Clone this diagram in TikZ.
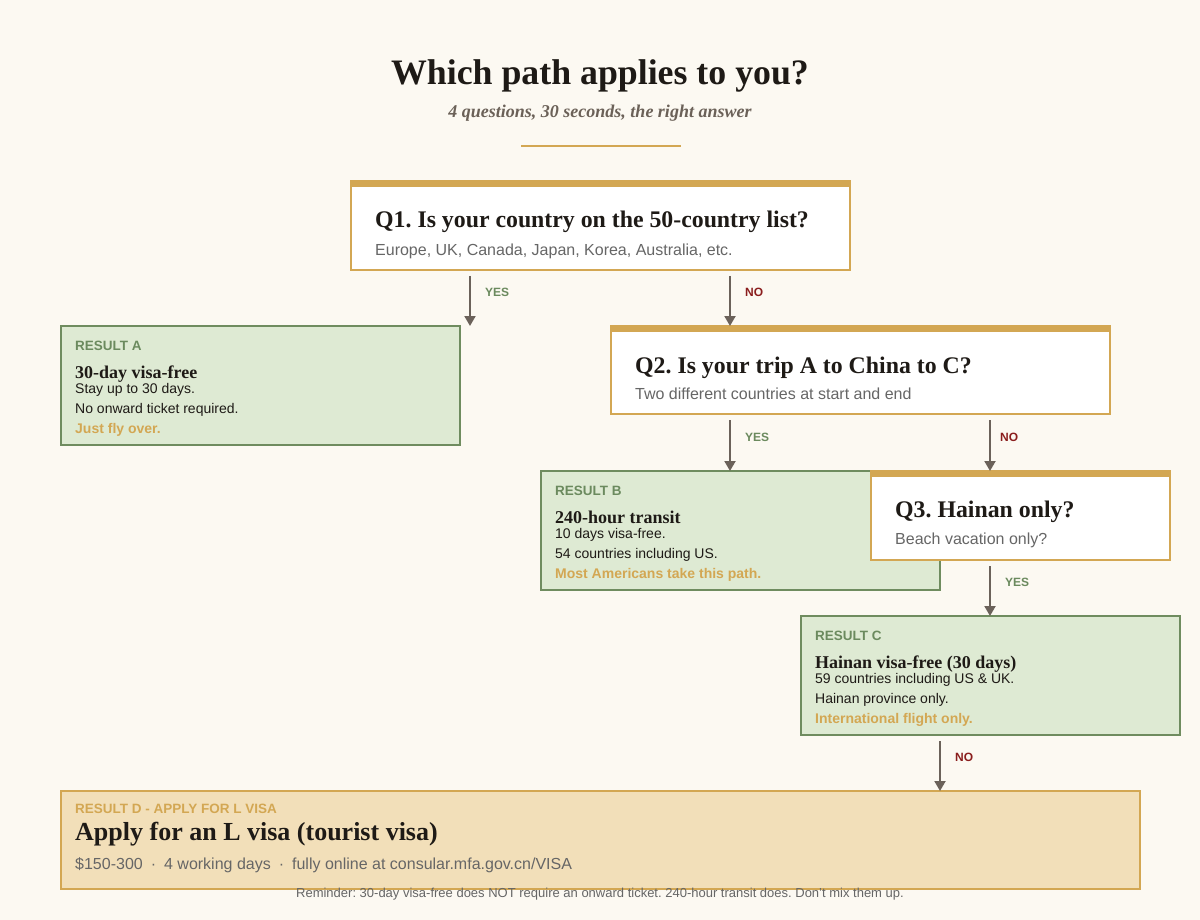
\documentclass[tikz,border=0pt]{standalone}
\usepackage{fontspec}
\setmainfont{Liberation Serif}
\setsansfont{Liberation Sans}
\usetikzlibrary{arrows.meta,calc}
\frenchspacing
\definecolor{bg}{HTML}{FCF9F2}
\definecolor{gold}{HTML}{D3A753}
\definecolor{gfill}{HTML}{DEEAD3}
\definecolor{gborder}{HTML}{6F8C5F}
\definecolor{gtext}{HTML}{6B8A5E}
\definecolor{nored}{HTML}{8B1E1E}
\definecolor{arrowc}{HTML}{6B625A}
\definecolor{greytxt}{HTML}{666666}
\definecolor{darktxt}{HTML}{1E1A16}
\definecolor{dfill}{HTML}{F2DFB9}
\definecolor{subtxt}{HTML}{6B6158}
\newcommand\myfs[1]{\fontsize{#1}{#1}\selectfont}
\begin{document}
\begin{tikzpicture}[x=1pt,y=-1pt,
  box/.style={draw, line width=2pt, anchor=north west, inner sep=0pt, outer sep=0pt},
  qbox/.style={box, draw=gold, fill=white},
  rbox/.style={box, draw=gborder, fill=gfill},
  dbox/.style={box, draw=gold, fill=dfill},
  arr/.style={draw=arrowc, line width=2pt, -{Triangle[width=11pt,length=10pt]}},
  yeslbl/.style={anchor=base west, inner sep=0pt, text=gtext, font=\sffamily\bfseries\myfs{12}},
  nolbl/.style={anchor=base west, inner sep=0pt, text=nored, font=\sffamily\bfseries\myfs{12}},
  qt/.style={anchor=base west, inner sep=0pt, text=darktxt, font=\bfseries\myfs{23.8}},
  qs/.style={anchor=base west, inner sep=0pt, text=greytxt, font=\sffamily\myfs{16}},
  rlab/.style={anchor=base west, inner sep=0pt, text=gtext, font=\sffamily\bfseries\myfs{13.5}},
  rt/.style={anchor=base west, inner sep=0pt, text=darktxt, font=\bfseries\myfs{18}},
  rl/.style={anchor=base west, inner sep=0pt, text=darktxt, font=\sffamily\myfs{14}},
  rg/.style={anchor=base west, inner sep=0pt, text=gold, font=\sffamily\bfseries\myfs{14}},
]
\useasboundingbox (0,0) rectangle (1200,920);
\fill[bg] (0,0) rectangle (1200,920);

% title
\node[anchor=base, inner sep=0pt, text=darktxt, font=\bfseries\myfs{35.8}] (title) at (600,85) {Which path applies to you?};
\node[anchor=base, inner sep=0pt, text=subtxt, font=\bfseries\itshape\myfs{18}] (subtitle) at (600,118) {4 questions, 30 seconds, the right answer};
\draw[gold, line width=2pt] (521,146) -- (681,146);

% Q1
\node[qbox, minimum width=499pt, minimum height=89pt] (q1) at (351,181) {};
\fill[gold] ($(q1.north west)+(-1,-1)$) rectangle ($(q1.north east)+(1,6)$);
\node[qt] (q1t) at ($(q1.north west)+(24,47)$) {Q1. Is your country on the 50-country list?};
\node[qs] (q1s) at ($(q1.north west)+(24,74)$) {Europe, UK, Canada, Japan, Korea, Australia, etc.};

% Result A
\node[rbox, minimum width=399pt, minimum height=119pt] (ra) at (61,326) {};
\node[rlab] (ral) at ($(ra.north west)+(14,24)$) {RESULT A};
\node[rt] (rat) at ($(ra.north west)+(14,52)$) {30-day visa-free};
\node[rl] (ra1) at ($(ra.north west)+(14,67)$) {Stay up to 30 days.};
\node[rl] (ra2) at ($(ra.north west)+(14,87)$) {No onward ticket required.};
\node[rg] (ra3) at ($(ra.north west)+(14,107)$) {Just fly over.};

% Q2
\node[qbox, minimum width=499pt, minimum height=88pt] (q2) at (611,326) {};
\fill[gold] ($(q2.north west)+(-1,-1)$) rectangle ($(q2.north east)+(1,6)$);
\node[qt] (q2t) at ($(q2.north west)+(24,47)$) {Q2. Is your trip A to China to C?};
\node[qs] (q2s) at ($(q2.north west)+(24,73)$) {Two different countries at start and end};

% Result B
\node[rbox, minimum width=399pt, minimum height=119pt] (rb) at (541,471) {};
\node[rlab] (rbl) at ($(rb.north west)+(14,24)$) {RESULT B};
\node[rt] (rbt) at ($(rb.north west)+(14,52)$) {240-hour transit};
\node[rl] (rb1) at ($(rb.north west)+(14,67)$) {10 days visa-free.};
\node[rl] (rb2) at ($(rb.north west)+(14,87)$) {54 countries including US.};
\node[rg] (rb3) at ($(rb.north west)+(14,107)$) {Most Americans take this path.};

% Q3
\node[qbox, minimum width=299pt, minimum height=89pt] (q3) at (871,471) {};
\fill[gold] ($(q3.north west)+(-1,-1)$) rectangle ($(q3.north east)+(1,6)$);
\node[qt] (q3t) at ($(q3.north west)+(24,46)$) {Q3. Hainan only?};
\node[qs] (q3s) at ($(q3.north west)+(24,73)$) {Beach vacation only?};

% Result C
\node[rbox, minimum width=379pt, minimum height=119pt] (rc) at (801,616) {};
\node[rlab] (rcl) at ($(rc.north west)+(14,24)$) {RESULT C};
\node[rt] (rct) at ($(rc.north west)+(14,52)$) {Hainan visa-free (30 days)};
\node[rl] (rc1) at ($(rc.north west)+(14,67)$) {59 countries including US \& UK.};
\node[rl] (rc2) at ($(rc.north west)+(14,87)$) {Hainan province only.};
\node[rg] (rc3) at ($(rc.north west)+(14,107)$) {International flight only.};

% Result D
\node[dbox, minimum width=1079pt, minimum height=98pt] (rd) at (61,791) {};
\node[anchor=base west, inner sep=0pt, text=gold, font=\sffamily\bfseries\myfs{13.5}] (rdl) at ($(rd.north west)+(14,22)$) {RESULT D - APPLY FOR L VISA};
\node[anchor=base west, inner sep=0pt, text=darktxt, font=\bfseries\myfs{26}] (rdt) at ($(rd.north west)+(14,49)$) {Apply for an L visa (tourist visa)};
\node[anchor=base west, inner sep=0pt, text=greytxt, font=\sffamily\myfs{16}] (rds) at ($(rd.north west)+(14,78)$) {\$150-300\enspace·\enspace 4 working days\enspace·\enspace fully online at consular.mfa.gov.cn/VISA};
\node[anchor=base, inner sep=0pt, text=greytxt, font=\sffamily\myfs{13}] (remind) at (600,897) {Reminder: 30-day visa-free does NOT require an onward ticket. 240-hour transit does. Don't mix them up.};

% connector x positions
\coordinate (xa) at (470,0);
\coordinate (xb) at (730,0);
\coordinate (xc) at (990,0);
\coordinate (xd) at (940,0);

\draw[arr] ($(xa |- q1.south)+(0,6)$) -- (xa |- ra.north);
\node[yeslbl] (l1) at ($(xa |- q1.south)+(15,26)$) {YES};
\draw[arr] ($(xb |- q1.south)+(0,6)$) -- (xb |- q2.north);
\node[nolbl] (l2) at ($(xb |- q1.south)+(15,26)$) {NO};

\draw[arr] ($(xb |- q2.south)+(0,6)$) -- (xb |- rb.north);
\node[yeslbl] (l3) at ($(xb |- q2.south)+(15,27)$) {YES};
\draw[arr] ($(xc |- q2.south)+(0,6)$) -- (xc |- q3.north);
\node[nolbl] (l4) at ($(xc |- q2.south)+(10,27)$) {NO};

\draw[arr] ($(xc |- q3.south)+(0,6)$) -- (xc |- rc.north);
\node[yeslbl] (l5) at ($(xc |- q3.south)+(15,26)$) {YES};
\draw[arr] ($(xd |- rc.south)+(0,6)$) -- (xd |- rd.north);
\node[nolbl] (l6) at ($(xd |- rc.south)+(15,26)$) {NO};
\end{tikzpicture}
\end{document}
